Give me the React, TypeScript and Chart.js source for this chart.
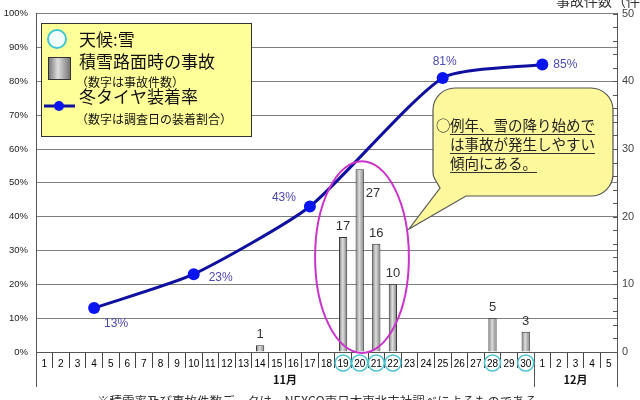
import React, { useEffect, useRef } from 'react';
import { Chart, registerables } from 'chart.js';

Chart.register(...registerables);

// 11/1 - 12/5
const dayLabels = [
  '1', '2', '3', '4', '5', '6', '7', '8', '9', '10',
  '11', '12', '13', '14', '15', '16', '17', '18', '19', '20',
  '21', '22', '23', '24', '25', '26', '27', '28', '29', '30',
  '1', '2', '3', '4', '5',
];

// 積雪路面時の事故件数
const accidentCounts = [
  null, null, null, null, null, null, null, null, null, null,
  null, null, null, 1, null, null, null, null, 17, 27,
  16, 10, null, null, null, null, null, 5, null, 3,
  null, null, null, null, null,
];

// 冬タイヤ装着率 (%)
const tireRate = [
  null, null, null, 13, null, null, null, null, null, 23,
  null, null, null, null, null, null, 43, null, null, null,
  null, null, null, null, 81, null, null, null, null, null,
  85, null, null, null, null,
];

// 天候:雪 の日 (index)
const snowDayIndexes = [18, 19, 20, 21, 27, 29];

const monthNames = ['11月', '12月'];
const monthStartIndexes = [0, 30];

const rateLabelOffsets = [[22, 16], [27, 3], [-26, -9], [2, -16], [23, 0]];

const JP = '"Noto Sans CJK JP", sans-serif';
const SANS = '"Liberation Sans", Arial, sans-serif';

const barGradient = (ctx: CanvasRenderingContext2D, x: number, half: number) => {
  const g = ctx.createLinearGradient(x - half, 0, x + half, 0);
  g.addColorStop(0, '#6e6e6e');
  g.addColorStop(0.45, '#dedede');
  g.addColorStop(1, '#767676');
  return g;
};

const decorPlugin = {
  id: 'decor',
  afterDatasetsDraw(chart: any) {
    const { ctx } = chart;
    const x = chart.scales.x;
    const y1 = chart.scales.y1;
    ctx.save();

    // bar values
    const maxVal = Math.max(...(accidentCounts.filter(v => v != null) as number[]));
    const barMeta = chart.getDatasetMeta(0);
    ctx.font = `13px ${SANS}`;
    ctx.fillStyle = '#333';
    barMeta.data.forEach((bar: any, i: number) => {
      const v = accidentCounts[i];
      if (v == null) return;
      if (v === maxVal) {
        ctx.textAlign = 'left';
        ctx.textBaseline = 'middle';
        ctx.fillText(String(v), bar.x + 6, bar.y + 24);
      } else {
        ctx.textAlign = 'center';
        ctx.textBaseline = 'bottom';
        ctx.fillText(String(v), bar.x, bar.y - 4);
      }
    });

    // rate values
    const lineMeta = chart.getDatasetMeta(1);
    ctx.font = `12px ${SANS}`;
    ctx.fillStyle = '#4a4ab4';
    ctx.textAlign = 'center';
    ctx.textBaseline = 'middle';
    let k = 0;
    lineMeta.data.forEach((pt: any, i: number) => {
      const v = tireRate[i];
      if (v == null) return;
      const [dx, dy] = rateLabelOffsets[k++] || [0, -14];
      ctx.fillText(`${v}%`, pt.x + dx, pt.y + dy);
    });

    // ellipse around the accident cluster
    const cluster = accidentCounts
      .map((v, i) => (v != null && v >= 10 ? i : -1))
      .filter(i => i >= 0);
    const xl = x.getPixelForValue(cluster[0]);
    const xr = x.getPixelForValue(cluster[cluster.length - 1]);
    const top = y1.getPixelForValue(maxVal) - 8;
    const bottom = y1.getPixelForValue(0) + 1;
    ctx.beginPath();
    ctx.ellipse((xl + xr) / 2 - 6, (top + bottom) / 2, (xr - xl) / 2 + 22, (bottom - top) / 2, 0, 0, Math.PI * 2);
    ctx.strokeStyle = '#cc33cc';
    ctx.lineWidth = 2;
    ctx.stroke();
    ctx.restore();
  },
  afterDraw(chart: any) {
    const { ctx, chartArea } = chart;
    const x = chart.scales.x;
    const y1 = chart.scales.y1;
    ctx.save();

    // inward minor ticks on the right axis
    ctx.strokeStyle = '#555';
    ctx.lineWidth = 1;
    for (let v = 0; v <= 50; v += 2) {
      const yy = Math.round(y1.getPixelForValue(v)) + 0.5;
      ctx.beginPath();
      ctx.moveTo(chartArea.right - 4, yy);
      ctx.lineTo(chartArea.right, yy);
      ctx.stroke();
    }

    // long separators under the axis
    const step = x.getPixelForValue(1) - x.getPixelForValue(0);
    const seps = [chartArea.left, x.getPixelForValue(monthStartIndexes[1]) - step / 2, chartArea.right];
    seps.forEach(sx => {
      const xx = Math.round(sx) + 0.5;
      ctx.beginPath();
      ctx.moveTo(xx, chartArea.bottom);
      ctx.lineTo(xx, chartArea.bottom + 35);
      ctx.stroke();
    });

    // month names
    ctx.font = `bold 11px ${JP}`;
    ctx.fillStyle = '#111';
    ctx.textAlign = 'center';
    ctx.textBaseline = 'middle';
    monthNames.forEach((m, i) => {
      const s = monthStartIndexes[i];
      const e = (monthStartIndexes[i + 1] ?? dayLabels.length) - 1;
      ctx.fillText(m, (x.getPixelForValue(s) + x.getPixelForValue(e)) / 2, chartArea.bottom + 28);
    });

    // snow circles
    ctx.strokeStyle = '#4cc3d3';
    ctx.lineWidth = 1.5;
    snowDayIndexes.forEach(i => {
      ctx.beginPath();
      ctx.arc(x.getPixelForValue(i), chartArea.bottom + 11, 8, 0, Math.PI * 2);
      ctx.stroke();
    });

    // legend box
    ctx.fillStyle = '#ffff99';
    ctx.fillRect(41, 23, 210, 113);
    ctx.strokeStyle = '#333';
    ctx.lineWidth = 1;
    ctx.strokeRect(41.5, 23.5, 210, 113);

    ctx.beginPath();
    ctx.arc(57, 39, 9, 0, Math.PI * 2);
    ctx.fillStyle = '#f4ffff';
    ctx.fill();
    ctx.strokeStyle = '#44c4d4';
    ctx.lineWidth = 2;
    ctx.stroke();

    ctx.fillStyle = barGradient(ctx, 59, 11);
    ctx.fillRect(48, 57, 22, 22);
    ctx.strokeStyle = '#333';
    ctx.lineWidth = 1;
    ctx.strokeRect(48.5, 57.5, 22, 22);

    ctx.beginPath();
    ctx.moveTo(44, 106);
    ctx.lineTo(75, 106);
    ctx.strokeStyle = '#1010a0';
    ctx.lineWidth = 3;
    ctx.stroke();
    ctx.beginPath();
    ctx.arc(59, 106, 5, 0, Math.PI * 2);
    ctx.fillStyle = '#0a14f0';
    ctx.fill();

    ctx.fillStyle = '#111';
    ctx.textAlign = 'left';
    ctx.textBaseline = 'middle';
    ctx.font = `17px ${JP}`;
    ctx.fillText('天候:雪', 79, 40);
    ctx.fillText('積雪路面時の事故', 79, 62);
    ctx.fillText('冬タイヤ装着率', 79, 97);
    ctx.font = `12px ${JP}`;
    ctx.fillText('（数字は事故件数）', 76, 82);
    ctx.fillText('（数字は調査日の装着割合）', 76, 119);

    // callout
    const L = 433, T = 88, R = 613, B = 196, r = 22;
    ctx.beginPath();
    ctx.moveTo(L + r, T);
    ctx.arcTo(R, T, R, B, r);
    ctx.arcTo(R, B, L, B, r);
    ctx.lineTo(466, B);
    ctx.lineTo(409, 229);
    ctx.lineTo(L + 7, B - 8);
    ctx.arcTo(L, B - 20, L, T, 14);
    ctx.arcTo(L, T, R, T, r);
    ctx.closePath();
    ctx.fillStyle = '#fdf89c';
    ctx.fill();
    ctx.strokeStyle = '#555';
    ctx.lineWidth = 1.2;
    ctx.stroke();

    ctx.fillStyle = '#222';
    ctx.font = `14.5px ${JP}`;
    ctx.textBaseline = 'alphabetic';
    const lines = [['○', '例年、雪の降り始めで'], ['', 'は事故が発生しやすい'], ['', '傾向にある。']];
    lines.forEach(([mark, text], i) => {
      const by = 131 + i * 19;
      if (mark) ctx.fillText(mark, 436, by);
      ctx.fillText(text, 450, by);
      const w = ctx.measureText(text).width;
      ctx.beginPath();
      ctx.moveTo(450, by + 3.5);
      ctx.lineTo(450 + w, by + 3.5);
      ctx.strokeStyle = '#333';
      ctx.lineWidth = 1;
      ctx.stroke();
    });

    // right axis title and footnote (cut by the edges)
    ctx.font = `14px ${JP}`;
    ctx.fillStyle = '#333';
    ctx.textBaseline = 'middle';
    ctx.fillText('事故件数（件）', 556, 1);
    ctx.font = `12.5px ${JP}`;
    ctx.textBaseline = 'top';
    ctx.fillText('※積雪率及び事故件数データは、NEXCO東日本東北支社調べによるものである。', 97, 395);

    ctx.restore();
  },
};

const App = () => {
  const canvasRef = useRef<HTMLCanvasElement>(null);
  const chartRef = useRef<Chart | null>(null);

  useEffect(() => {
    if (!canvasRef.current) return;
    const ctx = canvasRef.current.getContext('2d');
    if (!ctx) return;
    if (chartRef.current) chartRef.current.destroy();

    chartRef.current = new Chart(ctx, {
      type: 'bar',
      data: {
        labels: dayLabels,
        datasets: [
          {
            type: 'bar',
            data: accidentCounts,
            yAxisID: 'y1',
            order: 2,
            barPercentage: 0.5,
            categoryPercentage: 1,
            borderColor: '#333',
            borderWidth: 1,
            backgroundColor: (c: any) => {
              const chart = c.chart;
              if (!chart.chartArea || c.dataIndex == null) return '#aaa';
              return barGradient(chart.ctx, chart.scales.x.getPixelForValue(c.dataIndex), 4.5);
            },
          } as any,
          {
            type: 'line',
            data: tireRate,
            yAxisID: 'y',
            order: 1,
            spanGaps: true,
            tension: 0.2,
            borderColor: '#1010a0',
            borderWidth: 3,
            pointRadius: 6,
            pointBackgroundColor: '#0a14f0',
            pointBorderColor: '#0a14f0',
            pointBorderWidth: 0,
          } as any,
        ],
      },
      options: {
        responsive: true,
        maintainAspectRatio: false,
        animation: false,
        layout: { padding: { top: 13, left: 0, right: 0, bottom: 0 } },
        scales: {
          x: {
            afterFit: (s: any) => { s.height = 48; },
            grid: { offset: true, drawOnChartArea: false, drawTicks: true, tickLength: 16, color: '#444' },
            border: { display: true, color: '#555' },
            ticks: {
              autoSkip: false,
              maxRotation: 0,
              padding: -10,
              color: '#000',
              font: { size: 10, family: SANS },
            },
          },
          y: {
            position: 'left',
            min: 0,
            max: 100,
            afterFit: (s: any) => { s.width = 36; },
            grid: { color: '#7f7f7f', drawTicks: false },
            border: { color: '#555' },
            ticks: {
              stepSize: 10,
              padding: 8,
              color: '#222',
              font: { size: 9.5, family: SANS },
              callback: (v: any) => `${v}%`,
            },
          },
          y1: {
            position: 'right',
            min: 0,
            max: 50,
            afterFit: (s: any) => { s.width = 23; },
            grid: { drawOnChartArea: false, drawTicks: false },
            border: { color: '#555' },
            ticks: {
              stepSize: 10,
              padding: 5,
              color: '#444',
              font: { size: 11, family: SANS },
            },
          },
        },
        plugins: {
          legend: { display: false },
          tooltip: { enabled: false },
        },
      },
      plugins: [decorPlugin],
    });

    return () => {
      if (chartRef.current) {
        chartRef.current.destroy();
        chartRef.current = null;
      }
    };
  }, []);

  return (
    <div style={{ position: 'absolute', left: 0, top: 0, width: '640px', height: '400px', background: '#fff' }}>
      <canvas ref={canvasRef}></canvas>
    </div>
  );
};

export default App;
